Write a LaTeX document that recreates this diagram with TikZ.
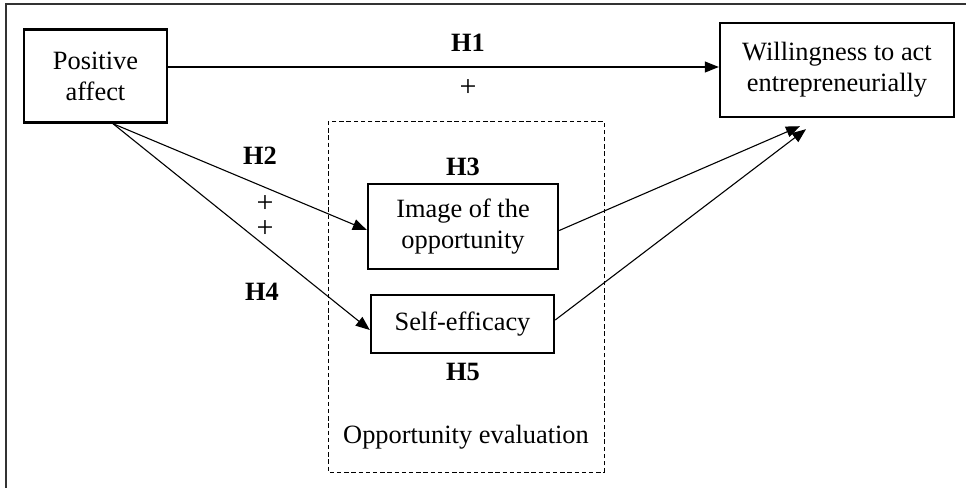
\documentclass[tikz,border=0pt]{standalone}
\usepackage{fontspec}
\setmainfont{Liberation Serif}
\usetikzlibrary{arrows.meta}
\begin{document}
\begin{tikzpicture}[x=0.5pt, y=-0.5pt,
    every node/.style={font=\fontsize{13.2}{15.5}\selectfont},
    box/.style={draw, line width=1.2pt, align=center, inner sep=0pt},
    hyp/.style={font=\fontsize{13.2}{15.5}\selectfont\bfseries},
    pls/.style={font=\fontsize{15}{12.5}\selectfont, inner sep=0pt, align=center},
    link/.style={line width=0.55pt, -{Triangle[length=7pt, width=5.5pt]}}]
    \useasboundingbox (0,0) rectangle (966,488);

    % 外框
    \draw[line width=0.8pt, black!80] (966,4) -- (6,4) -- (6,488);

    % 虚线框
    \draw[line width=0.5pt, dash pattern=on 2.2pt off 1.4pt] (328,121) rectangle (604,472);
    \node (oe) at (466,437) {Opportunity evaluation};

    % 变量
    \node[box, minimum width=71.5pt, minimum height=46.5pt] (pa) at (95.5,76) {Positive\\affect};
    \node[box, minimum width=117pt, minimum height=47pt] (will) at (837,70) {Willingness to act\\entrepreneurially};
    \node[box, minimum width=95pt, minimum height=42.5pt] (img) at (463,226.5) {Image of the\\opportunity};
    \node[box, minimum width=91.5pt, minimum height=29pt] (self) at (462.5,324) {Self-efficacy};

    % 箭头
    \coordinate (pa1) at ([xshift=8.75pt]pa.south);
    \coordinate (w1) at ([xshift=-18.5pt, yshift=-4pt]will.south);
    \coordinate (w2) at ([xshift=-15.5pt, yshift=-5.5pt]will.south);
    \draw[link] ([yshift=4.5pt]pa.east) -- ([yshift=4.5pt]pa.east -| will.west);
    \draw[link] (pa1) -- ([yshift=-1.75pt]img.west);
    \draw[link] (pa1) -- ([yshift=-3pt]self.west);
    \draw[link] ([yshift=-2pt]img.east) -- (w1);
    \draw[link] ([yshift=2pt]self.east) -- (w2);

    % 假设
    \node[hyp] (h1) at (468,43) {H1};
    \node[pls] (p1) at (468,88) {+};
    \node[hyp] (h2) at (260,156) {H2};
    \node[pls] (p24) at (265,216.5) {+\\+};
    \node[hyp] (h3) at (463,167) {H3};
    \node[hyp] (h4) at (262,292) {H4};
    \node[hyp] (h5) at (463,372) {H5};
\end{tikzpicture}
\end{document}
